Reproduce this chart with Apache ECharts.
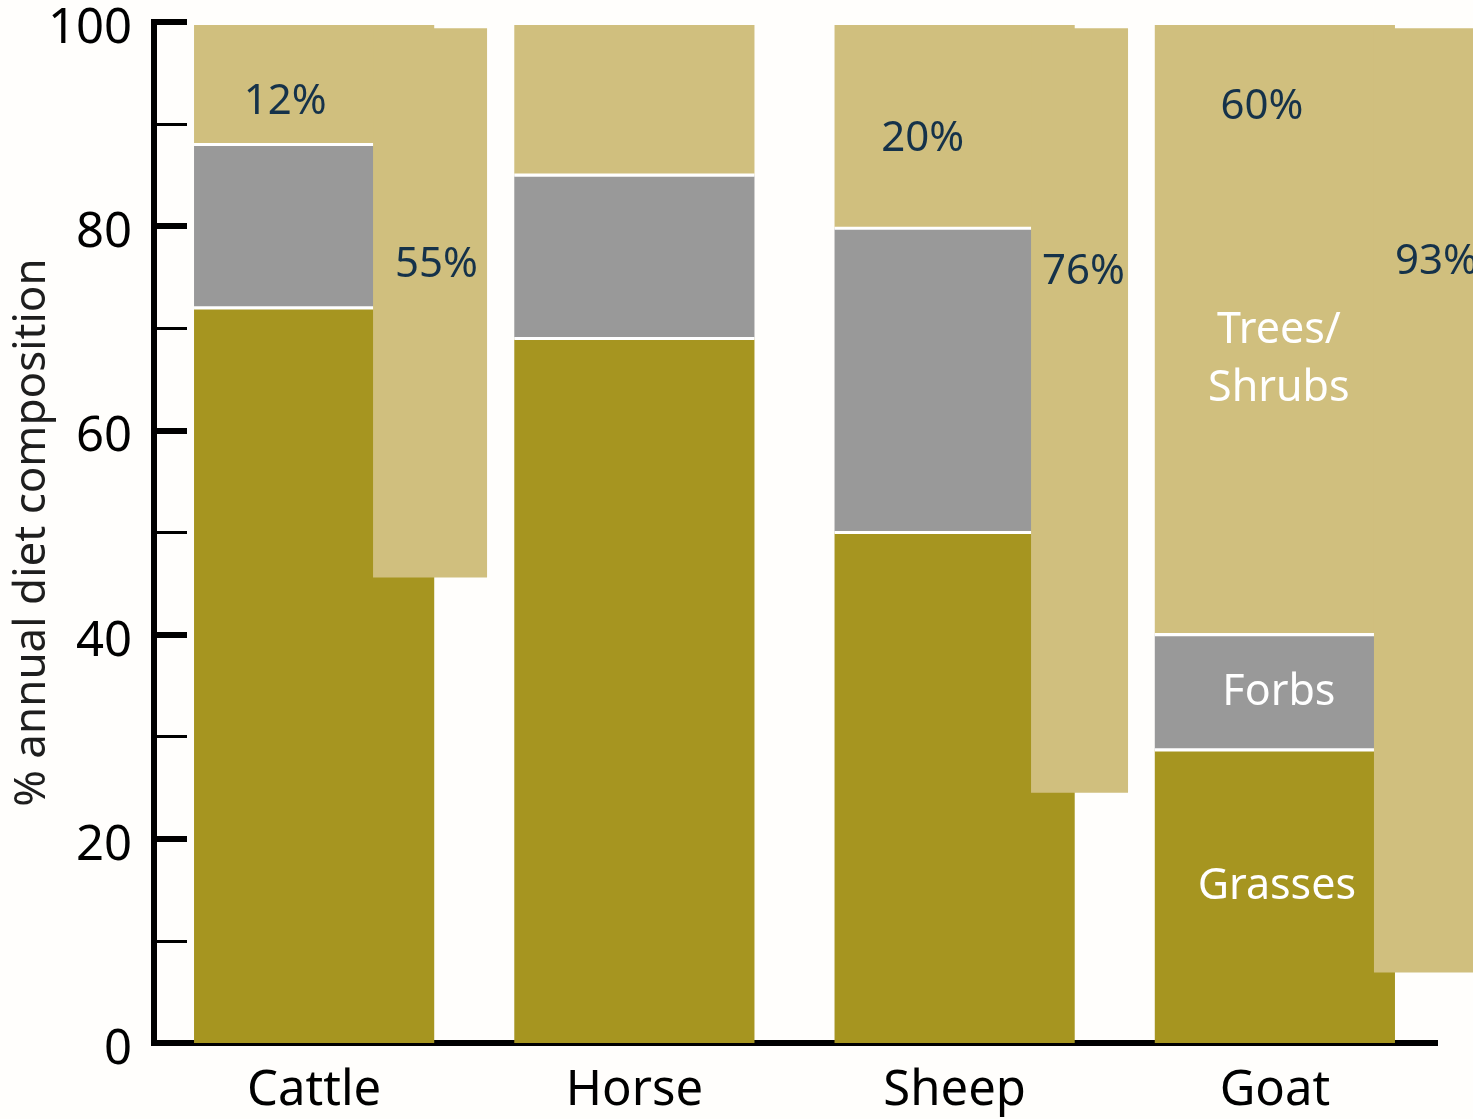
<!DOCTYPE html>
<html>
<head>
<meta charset="utf-8">
<script src="https://cdn.jsdelivr.net/npm/echarts@6/dist/echarts.min.js"></script>
<style>
  html, body { margin: 0; padding: 0; background: #FFFEFC; }
  #chart { width: 1473px; height: 1119px; }
</style>
</head>
<body>
<div id="chart"></div>
<script>
// ---- data ----
const categories = ['Cattle', 'Horse', 'Sheep', 'Goat'];
const grasses = [72, 69, 50, 28.7];
const forbs = [16, 16, 29.8, 11.3];
const treesShrubs = [11.7, 14.7, 19.9, 59.7];
const treesLabels = ['12%', '', '20%', '60%'];
const overlayCats = ['Cattle', 'Sheep', 'Goat'];
const overlayLow = [45.6, 24.5, 6.9];
const overlayHigh = [99.4, 99.4, 99.4];
const overlayLabels = ['55%', '76%', '93%'];
const yTicks = [0, 20, 40, 60, 80, 100];
const yTitle = '% annual diet composition';

// ---- layout / style constants ----
const OLIVE = '#A69520', GRAY = '#999999', TAN = '#D0BF7E', NAVY = '#15324A';
const FONT = '"Noto Sans", "Open Sans", sans-serif';
const BAR_FRAC = 0.75;
// overlay x extent as fraction of category band, relative to category centre
const overlayX = [[0.184, 0.540], [0.2386, 0.5415], [0.3094, 0.66]];
const overlayTextPos = [[22, 237], [11, 244], [21, 234]]; // px from overlay left/top
const treesTextPos = [[-29, 77], null, [-32, 114], [-13, 82]]; // px from segment top-centre

const chart = echarts.init(document.getElementById('chart'), null, { renderer: 'canvas' });

const goatIdx = categories.indexOf('Goat');
function withGoatLabel(arr) {
  return arr.map((v, i) => i === goatIdx ? { value: v, label: { show: true } } : v);
}

const segLabel = (offset) => ({
  show: false,
  position: 'inside',
  color: '#ffffff',
  fontFamily: FONT,
  fontSize: 43,
  lineHeight: 58,
  offset: offset,
  formatter: (p) => p.seriesName === 'Trees/Shrubs' ? 'Trees/\nShrubs' : p.seriesName
});

const separatorData = [];
categories.forEach((c, i) => {
  separatorData.push([i, grasses[i]]);
  separatorData.push([i, grasses[i] + forbs[i]]);
});

const topLabelData = [];
categories.forEach((c, i) => {
  if (treesLabels[i]) topLabelData.push([i, grasses[i] + forbs[i] + treesShrubs[i], treesLabels[i], i]);
});

const overlayData = overlayCats.map((c, k) => [categories.indexOf(c), overlayLow[k], overlayHigh[k]]);

const option = {
  backgroundColor: '#FFFEFC',
  animation: false,
  grid: { left: 154, right: 38, top: 22, bottom: 76, containLabel: false, outerBoundsMode: 'none' },
  xAxis: {
    type: 'category',
    data: categories,
    axisLine: { show: true, lineStyle: { color: '#000', width: 6, cap: 'square' } },
    axisTick: { show: false },
    axisLabel: { color: '#000', fontFamily: FONT, fontSize: 49, margin: 24 },
    splitLine: { show: false }
  },
  yAxis: {
    type: 'value',
    min: yTicks[0],
    max: yTicks[yTicks.length - 1],
    interval: yTicks[1] - yTicks[0],
    name: yTitle,
    nameLocation: 'middle',
    nameRotate: 90,
    nameGap: 100,
    nameMoveOverlap: false,
    nameTextStyle: { color: '#1e1e1e', fontFamily: FONT, fontSize: 44 },
    axisLine: { show: true, lineStyle: { color: '#000', width: 6, cap: 'square' } },
    axisTick: { show: true, inside: true, length: 33, lineStyle: { color: '#000', width: 6 } },
    minorTick: { show: true, splitNumber: 2, length: 33, lineStyle: { color: '#000', width: 3 } },
    axisLabel: { color: '#000', fontFamily: FONT, fontSize: 49, margin: 22, verticalAlign: 'top', lineHeight: 14 },
    splitLine: { show: false },
    minorSplitLine: { show: false }
  },
  series: [
    {
      name: 'Grasses', type: 'bar', stack: 'diet', barWidth: (BAR_FRAC * 100) + '%', z: 2,
      itemStyle: { color: OLIVE },
      label: segLabel([2, -10]),
      data: withGoatLabel(grasses)
    },
    {
      name: 'Forbs', type: 'bar', stack: 'diet', barWidth: (BAR_FRAC * 100) + '%', z: 2,
      itemStyle: { color: GRAY },
      label: segLabel([4, 0]),
      data: withGoatLabel(forbs)
    },
    {
      name: 'Trees/Shrubs', type: 'bar', stack: 'diet', barWidth: (BAR_FRAC * 100) + '%', z: 2,
      itemStyle: { color: TAN },
      label: segLabel([4, 30]),
      data: withGoatLabel(treesShrubs)
    },
    {
      name: 'separators', type: 'custom', z: 3, silent: true,
      encode: { x: 0, y: 1 },
      data: separatorData,
      renderItem: (params, api) => {
        const p = api.coord([api.value(0), api.value(1)]);
        const band = api.size([1, 0])[0];
        const w = band * BAR_FRAC;
        return { type: 'rect', shape: { x: p[0] - w / 2, y: p[1] - 1.6, width: w, height: 3.2 }, style: { fill: '#ffffff' } };
      }
    },
    {
      name: 'overlay', type: 'custom', z: 4, silent: true, clip: false,
      encode: { x: 0, y: [1, 2] },
      data: overlayData,
      renderItem: (params, api) => {
        const k = params.dataIndex;
        const cat = api.value(0);
        const bottom = api.coord([cat, api.value(1)]);
        const top = api.coord([cat, api.value(2)])[1];
        const band = api.size([1, 0])[0];
        const x0 = bottom[0] + overlayX[k][0] * band;
        const x1 = bottom[0] + overlayX[k][1] * band;
        return {
          type: 'group',
          children: [
            { type: 'rect', shape: { x: x0, y: top, width: x1 - x0, height: bottom[1] - top }, style: { fill: TAN } },
            { type: 'text', x: x0 + overlayTextPos[k][0], y: top + overlayTextPos[k][1],
              style: { text: overlayLabels[k], fill: NAVY, font: '42px ' + FONT, align: 'left', verticalAlign: 'middle' } }
          ]
        };
      }
    },
    {
      name: 'treesPct', type: 'custom', z: 5, silent: true, clip: false,
      encode: { x: 0, y: 1 },
      data: topLabelData,
      renderItem: (params, api) => {
        const i = api.value(3);
        const p = api.coord([api.value(0), api.value(1)]);
        const off = treesTextPos[i];
        return { type: 'text', x: p[0] + off[0], y: p[1] + off[1],
          style: { text: treesLabels[i], fill: NAVY, font: '42px ' + FONT, align: 'center', verticalAlign: 'middle' } };
      }
    }
  ]
};
chart.setOption(option);
</script>
</body>
</html>
